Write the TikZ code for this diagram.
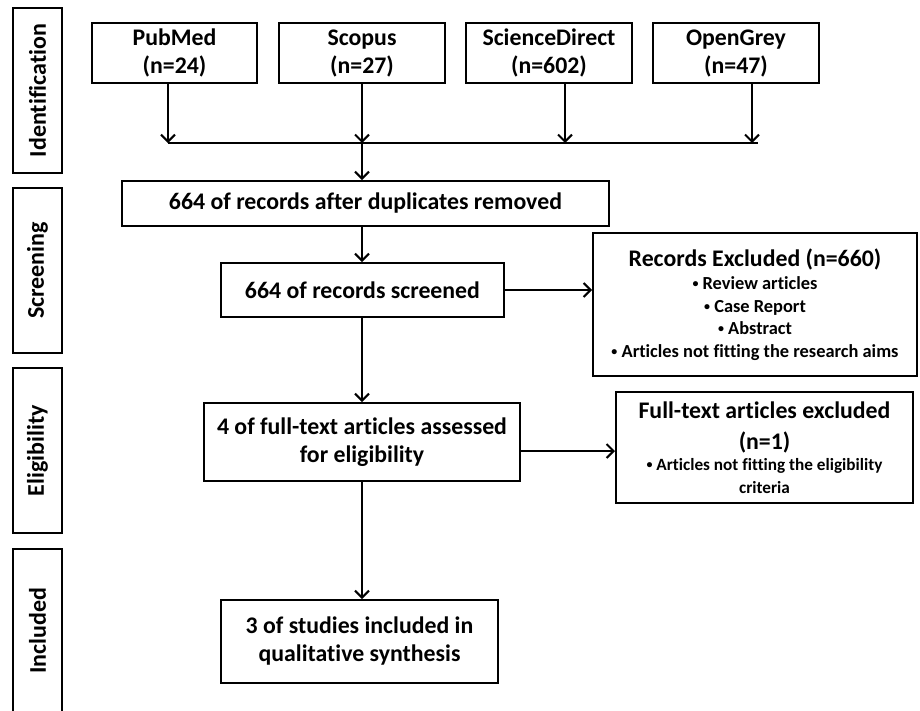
\documentclass[tikz,border=0pt]{standalone}
\usepackage{fontspec}
\setmainfont{Carlito}[Ligatures=NoCommon]
\usetikzlibrary{arrows.meta}
\newcommand{\itemdot}{\raisebox{1.8pt}{\fontsize{12}{12}\selectfont •}}

\begin{document}
\begin{tikzpicture}[x=1pt,y=-1pt,
    box/.style={draw,rectangle,line width=2pt,align=center,inner sep=2pt,font=\bfseries\fontsize{23.8}{28}\selectfont},
    phase/.style={draw,rectangle,line width=2pt,rotate=90,minimum width=165pt,minimum height=49pt,font=\bfseries\fontsize{24}{26}\selectfont},
    arr/.style={line width=2pt,-{Straight Barb[length=7pt,width=14pt]}}]
    \useasboundingbox (0,0) rectangle (920,710);
    % phases
    \node(identification)[phase] at (37.5,90.5) {Identification};
    \node(screening)[phase] at (37.5,270.5) {Screening};
    \node(eligibility)[phase] at (37.5,450.5) {Eligibility};
    \node(included)[phase] at (37.5,631) {Included};
    % databases
    \node(pubmed)[box,minimum width=165pt,minimum height=60pt] at (174.5,53) {PubMed\\(n=24)};
    \node(scopus)[box,minimum width=166pt,minimum height=60pt] at (362,53) {Scopus\\(n=27)};
    \node(sciencedirect)[box,minimum width=166pt,minimum height=60pt] at (549,53) {ScienceDirect\\(n=602)};
    \node(opengrey)[box,minimum width=166pt,minimum height=60pt] at (736,53) {OpenGrey\\(n=47)};
    \coordinate(b1) at (168,143);
    \coordinate(b2) at (362,143);
    \coordinate(b3) at (565,143);
    \coordinate(b4) at (752,143);
    \coordinate(busend) at (758,143);
    % flow
    \node(duplicates)[box,minimum width=487pt,minimum height=45pt] at (365.5,203.5) {664 of records after duplicates removed};
    \node(screened)[box,minimum width=283pt,minimum height=54pt] at (362.5,290) {664 of records screened};
    \node(recexcluded)[box,minimum width=324pt,minimum height=143pt,font=\bfseries\fontsize{18.4}{22.5}\selectfont] at (755,304.5)
        {{\fontsize{23.8}{24}\selectfont Records Excluded (n=660)}\\[1pt]\itemdot{} Review articles\\\itemdot{} Case Report\\\itemdot{} Abstract\\\itemdot{} Articles not fitting the research aims};
    \node(fulltext)[box,minimum width=316pt,minimum height=78pt] at (362,442) {4 of full-text articles assessed\\for eligibility};
    \node(ftexcluded)[box,minimum width=297pt,minimum height=111pt,font=\bfseries\fontsize{17.2}{23}\selectfont] at (764.5,447.5)
        {{\fontsize{23.8}{29}\selectfont Full-text articles excluded}\\[8pt]{\fontsize{23.8}{29}\selectfont (n=1)}\\[-2pt]\itemdot{} Articles not fitting the eligibility\\criteria};
    \node(studies)[box,minimum width=277pt,minimum height=83pt] at (359.5,641.5) {3 of studies included in\\qualitative synthesis};
    \coordinate(ftout) at ([yshift=-9pt]fulltext.east);
    % connectors
    \draw[arr] (pubmed.south -| b1) -- (b1);
    \draw[arr] (scopus.south -| b2) -- (b2);
    \draw[arr] (sciencedirect.south -| b3) -- (b3);
    \draw[arr] (opengrey.south -| b4) -- (b4);
    \draw[line width=2pt] (b1) -- (busend);
    \draw[arr] (b2) -- (b2 |- duplicates.north);
    \draw[arr] (duplicates.south -| b2) -- (b2 |- screened.north);
    \draw[arr] (screened.east) -- (recexcluded.west |- screened.east);
    \draw[arr] (screened.south -| b2) -- (b2 |- fulltext.north);
    \draw[arr] (ftout) -- (ftexcluded.west |- ftout);
    \draw[arr] (fulltext.south -| b2) -- (b2 |- studies.north);
\end{tikzpicture}
\end{document}
